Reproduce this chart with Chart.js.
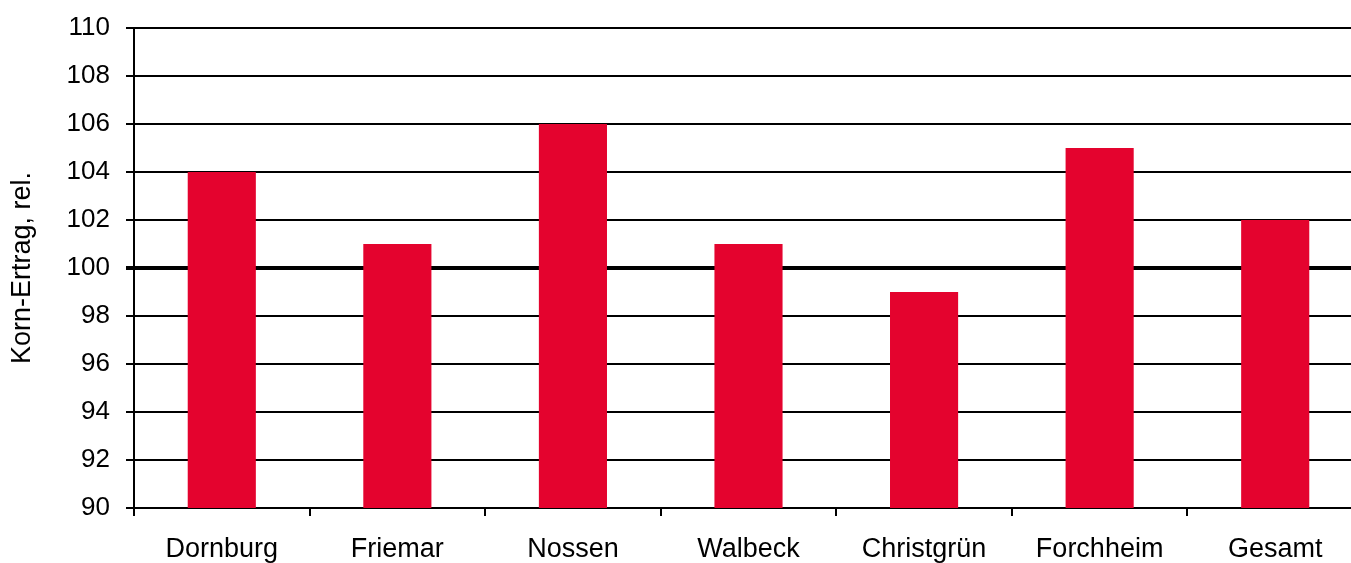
<!DOCTYPE html>
<html>
<head>
<meta charset="utf-8">
<script src="https://cdn.jsdelivr.net/npm/chart.js@4"></script>
<style>
  html, body { margin: 0; padding: 0; background: #fff; overflow: hidden; }
  #wrap { width: 1351px; height: 563px; overflow: hidden; position: relative; }
  canvas { display: block; }
</style>
</head>
<body>
<div id="wrap"><canvas id="c" width="1363" height="563" style="width:1363px;height:563px"></canvas></div>
<script>
const categories = ['Dornburg', 'Friemar', 'Nossen', 'Walbeck', 'Christgrün', 'Forchheim', 'Gesamt'];
const kornErtrag = [104, 101, 106, 101, 99, 105, 102];
const yMin = 90, yMax = 110, yStep = 2;
const yTitle = 'Korn-Ertrag, rel.';
const referenceLine = 100;

const FONT = '"Liberation Sans", Arial, sans-serif';

new Chart(document.getElementById('c'), {
  type: 'bar',
  data: {
    labels: categories,
    datasets: [{
      data: kornErtrag,
      backgroundColor: '#e4032e',
      borderWidth: 0,
      categoryPercentage: 1,
      barPercentage: 0.388
    }]
  },
  options: {
    responsive: false,
    animation: false,
    layout: { padding: { top: 28, left: 0, right: 0, bottom: 0 } },
    plugins: { legend: { display: false }, tooltip: { enabled: false } },
    scales: {
      x: {
        offset: true,
        grid: { drawOnChartArea: false, offset: true, color: '#000', lineWidth: 2, tickLength: 8 },
        border: { color: '#000', width: 2 },
        ticks: { color: '#000', font: { family: FONT, size: 27 }, padding: 17, maxRotation: 0, autoSkip: false },
        afterFit: s => { s.height = 55; s.paddingLeft = 0; s.paddingRight = 0; }
      },
      y: {
        min: yMin, max: yMax,
        grid: {
          color: '#000',
          lineWidth: ctx => (ctx.tick && ctx.tick.value === referenceLine) ? 4 : 2,
          tickLength: 8
        },
        border: { color: '#000', width: 2 },
        ticks: { stepSize: yStep, color: '#000', font: { family: FONT, size: 26 }, padding: 16 },
        title: { display: true, text: yTitle, color: '#000', font: { family: FONT, size: 27 }, padding: { top: 6, bottom: 0 } },
        afterFit: s => { s.width = 134; s.paddingTop = 0; s.paddingBottom = 0; }
      }
    }
  }
});
</script>
</body>
</html>
